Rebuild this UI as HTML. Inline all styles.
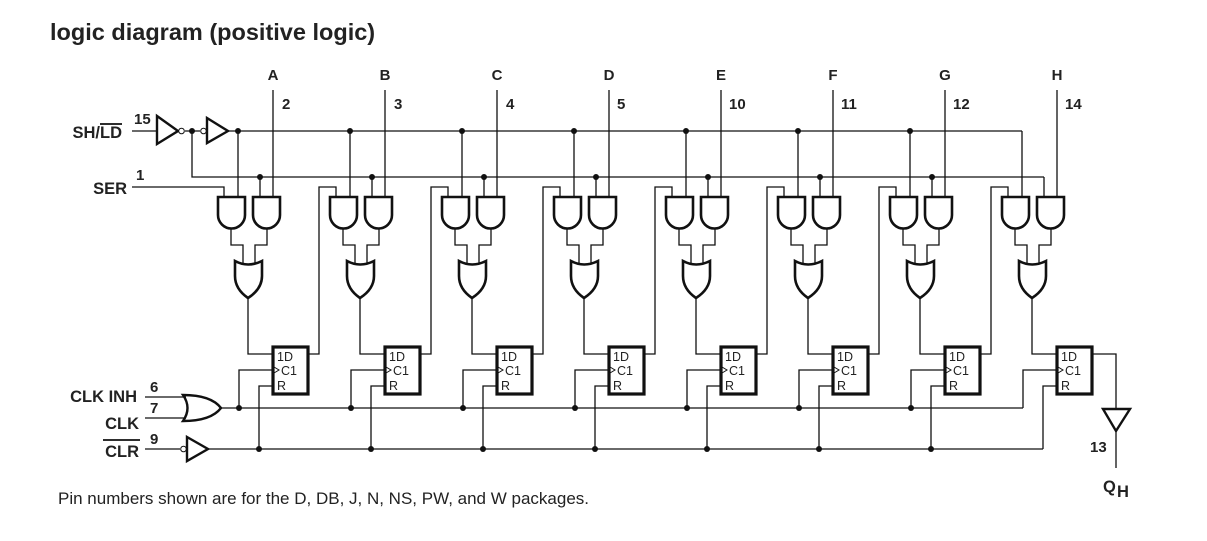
<!DOCTYPE html>
<html><head><meta charset="utf-8"><style>
html,body{margin:0;padding:0;background:#fff;}
svg{display:block}
text{font-family:"Liberation Sans",Arial,sans-serif;fill:#222}
.b{font-weight:bold;font-size:15px}
.l{font-weight:bold;font-size:16.5px}
.ff{font-size:12.5px}
</style></head><body>
<svg width="1207" height="541" viewBox="0 0 1207 541" xmlns="http://www.w3.org/2000/svg">
<defs>
<g id="st" fill="none" stroke="#111" stroke-width="1.3">
  <path d="M273 90V197"/>
  <path d="M238 131V197"/>
  <path d="M260 177V197"/>
  <path d="M218 197V215A13.5 13.5 0 0 0 245 215V197Z" stroke-width="2.6"/>
  <path d="M253 197V215A13.5 13.5 0 0 0 280 215V197Z" stroke-width="2.6"/>
  <path d="M231 229V245H243V263M267 229V245H255V263"/>
  <path d="M235 261Q248 268 262 261L262 276Q262 289 248 298Q235 289 235 276Z" stroke-width="2.6"/>
  <path d="M248 298V354H272"/>
  <rect x="273" y="347" width="35" height="47" stroke-width="3.2"/>
  <path d="M239 408V370H272M259 449V386H272"/>
  <path d="M274 367L279 370L274 373" stroke-width="1"/>
</g>
<g id="q" fill="none" stroke="#111" stroke-width="1.3"><path d="M308 354H319V187H336V197"/></g>
<g id="dots" fill="#111"><circle cx="238" cy="131" r="3"/><circle cx="260" cy="177" r="3"/><circle cx="239" cy="408" r="3"/><circle cx="259" cy="449" r="3"/></g>
</defs>

<text x="50" y="40" style="font-weight:bold;font-size:23.5px">logic diagram (positive logic)</text>

<use href="#st"/><use href="#st" x="112"/><use href="#st" x="224"/><use href="#st" x="336"/>
<use href="#st" x="448"/><use href="#st" x="560"/><use href="#st" x="672"/><use href="#st" x="784"/>
<use href="#q"/><use href="#q" x="112"/><use href="#q" x="224"/><use href="#q" x="336"/>
<use href="#q" x="448"/><use href="#q" x="560"/><use href="#q" x="672"/>
<use href="#dots"/><use href="#dots" x="112"/><use href="#dots" x="224"/><use href="#dots" x="336"/>
<use href="#dots" x="448"/><use href="#dots" x="560"/><use href="#dots" x="672"/>

<g fill="none" stroke="#111" stroke-width="1.3">
  <path d="M132 131H157M185 131H200M228 131H1022"/>
  <path d="M157 116L178 131L157 144Z" stroke-width="2.4"/>
  <circle cx="181.5" cy="131" r="2.8" fill="#fff" stroke-width="1"/>
  <circle cx="203.5" cy="131" r="2.8" fill="#fff" stroke-width="1"/>
  <path d="M207 118L228 131L207 143Z" stroke-width="2.4"/>
  <path d="M192 131V177H1044"/>
  <path d="M132 187H224V197"/>
  <path d="M145 397H186M145 418H186"/>
  <path d="M183 395Q192 408 183 421Q211 421 221 408Q211 395 183 395Z" stroke-width="2.4"/>
  <path d="M221 408H1023"/>
  <path d="M145 449H180M208 449H1043"/>
  <circle cx="183.5" cy="449" r="2.8" fill="#fff" stroke-width="1"/>
  <path d="M187 437L208 449L187 461Z" stroke-width="2.4"/>
  <path d="M1092 354H1116V409M1116 430V468"/>
  <path d="M1103 409H1130L1116 431Z" stroke-width="2.4"/>
</g>
<circle cx="192" cy="131" r="3" fill="#111"/>

<text class="l" x="122" y="138" text-anchor="end">SH/LD</text>
<path d="M100 124H122" stroke="#111" stroke-width="1.8"/>
<text class="b" x="134" y="124">15</text>
<text class="l" x="127" y="194" text-anchor="end">SER</text>
<text class="b" x="136" y="180">1</text>
<text class="l" x="137" y="402" text-anchor="end">CLK INH</text>
<text class="b" x="150" y="392">6</text>
<text class="b" x="150" y="413">7</text>
<text class="l" x="139" y="429" text-anchor="end">CLK</text>
<text class="l" x="139" y="457" text-anchor="end">CLR</text>
<path d="M103 440H140" stroke="#111" stroke-width="1.8"/>
<text class="b" x="150" y="444">9</text>
<text class="b" x="1090" y="452">13</text>
<text class="l" x="1103" y="492">Q</text><text class="l" x="1117" y="497">H</text>

<g text-anchor="middle">
<text x="273" y="80" class="b">A</text><text x="385" y="80" class="b">B</text><text x="497" y="80" class="b">C</text><text x="609" y="80" class="b">D</text>
<text x="721" y="80" class="b">E</text><text x="833" y="80" class="b">F</text><text x="945" y="80" class="b">G</text><text x="1057" y="80" class="b">H</text>
</g>
<text class="b" x="282" y="109">2</text><text class="b" x="394" y="109">3</text><text class="b" x="506" y="109">4</text><text class="b" x="617" y="109">5</text>
<text class="b" x="729" y="109">10</text><text class="b" x="841" y="109">11</text><text class="b" x="953" y="109">12</text><text class="b" x="1065" y="109">14</text>

<g class="ff">
<text x="277" y="361">1D</text><text x="281" y="375">C1</text><text x="277" y="390">R</text>
<text x="389" y="361">1D</text><text x="393" y="375">C1</text><text x="389" y="390">R</text>
<text x="501" y="361">1D</text><text x="505" y="375">C1</text><text x="501" y="390">R</text>
<text x="613" y="361">1D</text><text x="617" y="375">C1</text><text x="613" y="390">R</text>
<text x="725" y="361">1D</text><text x="729" y="375">C1</text><text x="725" y="390">R</text>
<text x="837" y="361">1D</text><text x="841" y="375">C1</text><text x="837" y="390">R</text>
<text x="949" y="361">1D</text><text x="953" y="375">C1</text><text x="949" y="390">R</text>
<text x="1061" y="361">1D</text><text x="1065" y="375">C1</text><text x="1061" y="390">R</text>
</g>

<text x="58" y="504" style="font-size:17px">Pin numbers shown are for the D, DB, J, N, NS, PW, and W packages.</text>
</svg>
</body></html>
